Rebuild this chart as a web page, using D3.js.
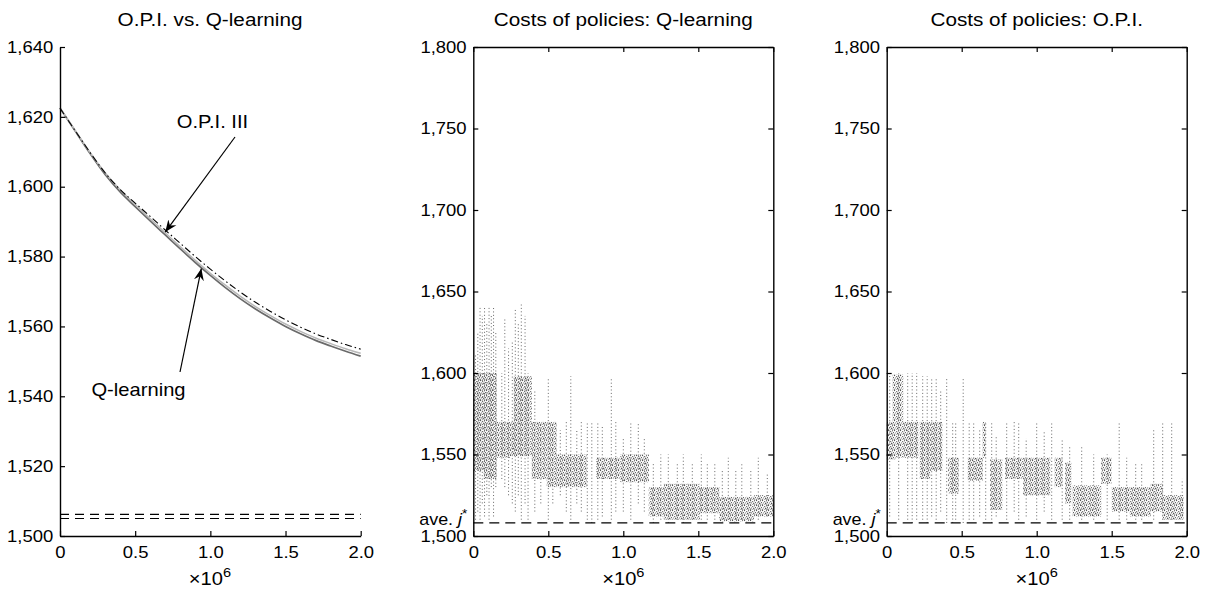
<!DOCTYPE html>
<html>
<head>
<meta charset="utf-8">
<script src="https://cdn.jsdelivr.net/npm/d3@7"></script>
<style>
  html, body { margin: 0; padding: 0; background: #fff; }
  svg text { font-family: "Liberation Sans", Arial, Helvetica, sans-serif; fill: #000; }
</style>
</head>
<body>
<svg id="chart" width="1206" height="589"></svg>
<script>
// ---- Panel 1: value estimates along training (x in millions of iterations)
const iterations = [0, 0.1, 0.2, 0.3, 0.4, 0.5, 0.6, 0.7, 0.8, 0.9, 1.0,
                    1.1, 1.2, 1.3, 1.4, 1.5, 1.6, 1.7, 1.8, 1.9, 2.0];
const qLearningDark  = [1622.5, 1616.0, 1609.5, 1603.5, 1598.5, 1594.3, 1590.2, 1586.2, 1582.2, 1578.3, 1574.6,
                        1571.1, 1567.9, 1565.0, 1562.4, 1560.0, 1557.9, 1556.0, 1554.4, 1552.9, 1551.5];
const qLearningLight = [1622.5, 1616.2, 1609.8, 1604.0, 1599.1, 1594.9, 1590.8, 1586.8, 1582.8, 1578.9, 1575.2,
                        1571.8, 1568.6, 1565.7, 1563.1, 1560.7, 1558.6, 1556.7, 1555.1, 1553.6, 1552.3];
const opiIII         = [1622.5, 1616.1, 1609.8, 1604.0, 1599.2, 1595.3, 1591.5, 1587.6, 1583.8, 1580.0, 1576.4,
                        1573.0, 1569.8, 1566.9, 1564.3, 1561.9, 1559.8, 1557.9, 1556.3, 1554.8, 1553.5];
const optimalLevels  = [1506.2, 1505.0];

// ---- Panels 2 and 3: simulated policy costs
// dense clusters: [x0, x1, low, high]
const qBlocks = [
  [0.005, 0.07, 1540, 1600], [0.07, 0.155, 1568, 1600], [0.07, 0.155, 1535, 1568],
  [0.155, 0.245, 1548, 1570], [0.245, 0.39, 1549, 1570], [0.27, 0.39, 1570, 1598],
  [0.39, 0.49, 1535, 1570], [0.49, 0.555, 1530, 1570], [0.555, 0.755, 1530, 1550],
  [0.82, 0.98, 1535, 1548], [0.98, 1.17, 1533, 1550], [1.17, 1.27, 1512, 1530],
  [1.27, 1.51, 1510, 1532], [1.51, 1.64, 1514, 1530], [1.64, 1.87, 1509, 1524],
  [1.87, 2.0, 1512, 1525]
];
// isolated columns of samples: [x, low, high]
const qStrips = [
  [0.015, 1510, 1612], [0.03, 1515, 1625], [0.045, 1510, 1640], [0.06, 1520, 1635], [0.075, 1512, 1640],
  [0.09, 1525, 1630], [0.105, 1510, 1640], [0.12, 1530, 1636], [0.135, 1512, 1640], [0.15, 1530, 1625],
  [0.19, 1535, 1600], [0.21, 1530, 1633], [0.235, 1525, 1615], [0.26, 1520, 1620], [0.28, 1515, 1640],
  [0.30, 1525, 1630], [0.32, 1510, 1642], [0.345, 1520, 1635], [0.365, 1510, 1600], [0.41, 1515, 1590],
  [0.45, 1520, 1570], [0.50, 1510, 1597], [0.53, 1520, 1570], [0.58, 1525, 1565], [0.62, 1515, 1570],
  [0.65, 1510, 1598], [0.69, 1520, 1565], [0.72, 1515, 1570], [0.76, 1510, 1570], [0.79, 1508, 1570],
  [0.83, 1510, 1570], [0.86, 1512, 1568], [0.92, 1510, 1597], [0.95, 1515, 1570], [1.0, 1515, 1560],
  [1.05, 1510, 1570], [1.1, 1520, 1570], [1.14, 1515, 1560], [1.2, 1508, 1545], [1.25, 1510, 1550],
  [1.3, 1508, 1550], [1.36, 1510, 1545], [1.4, 1508, 1550], [1.46, 1510, 1545], [1.52, 1510, 1550],
  [1.56, 1510, 1545], [1.61, 1510, 1545], [1.66, 1510, 1540], [1.7, 1510, 1548], [1.75, 1510, 1540],
  [1.79, 1510, 1545], [1.85, 1510, 1540], [1.9, 1510, 1548], [1.96, 1512, 1538]
];
const oBlocks = [
  [0.0, 0.06, 1547, 1570], [0.04, 0.11, 1570, 1599], [0.06, 0.11, 1548, 1570],
  [0.11, 0.21, 1548, 1570], [0.22, 0.29, 1535, 1570], [0.29, 0.37, 1540, 1570],
  [0.41, 0.48, 1526, 1548], [0.54, 0.64, 1534, 1548], [0.64, 0.66, 1548, 1570],
  [0.69, 0.77, 1516, 1547], [0.79, 0.91, 1535, 1548], [0.91, 1.09, 1525, 1548],
  [1.12, 1.17, 1530, 1548], [1.19, 1.23, 1520, 1545], [1.24, 1.43, 1512, 1531],
  [1.43, 1.5, 1532, 1548], [1.5, 1.62, 1515, 1530], [1.62, 1.76, 1512, 1530],
  [1.76, 1.84, 1515, 1532], [1.84, 1.98, 1510, 1525]
];
const oStrips = [
  [0.02, 1512, 1600], [0.08, 1510, 1600], [0.14, 1510, 1600], [0.17, 1508, 1600], [0.2, 1510, 1600],
  [0.24, 1510, 1598], [0.27, 1508, 1598], [0.3, 1512, 1597], [0.33, 1510, 1597], [0.36, 1515, 1590],
  [0.4, 1508, 1597], [0.44, 1508, 1570], [0.46, 1510, 1570], [0.51, 1508, 1597], [0.55, 1510, 1570],
  [0.58, 1510, 1570], [0.62, 1512, 1565], [0.66, 1510, 1570], [0.7, 1508, 1570], [0.73, 1512, 1562],
  [0.8, 1510, 1570], [0.85, 1515, 1570], [0.88, 1510, 1570], [0.93, 1512, 1560], [1.0, 1510, 1570],
  [1.05, 1515, 1565], [1.1, 1510, 1570], [1.17, 1510, 1560], [1.22, 1510, 1555], [1.3, 1510, 1555],
  [1.38, 1510, 1550], [1.47, 1510, 1550], [1.55, 1510, 1570], [1.6, 1510, 1548], [1.66, 1510, 1545],
  [1.7, 1510, 1545], [1.78, 1510, 1565], [1.84, 1510, 1570], [1.9, 1510, 1570], [1.97, 1512, 1535]
];
const averageOptimalCost = 1508;

// ---- Tick values and labels
const xTicks = [0, 0.5, 1.0, 1.5, 2.0];
const yTicksPanel1 = [1500, 1520, 1540, 1560, 1580, 1600, 1620, 1640];
const yTicksCost = [1500, 1550, 1600, 1650, 1700, 1750, 1800];
const titles = ["O.P.I. vs. Q-learning", "Costs of policies: Q-learning", "Costs of policies: O.P.I."];

// ---------------------------------------------------------------
const svg = d3.select("#chart");
const SX = 1.12; // horizontal stretch of the lettering
const fmtX = d => d === 0 ? "0" : d3.format(".1f")(d);
const fmtY = d3.format(",");
const plotTop = 47, plotBottom = 536;

const defs = svg.append("defs");
// irregular speckle tile used to render dense clusters of sampled costs
const speckle = defs.append("pattern").attr("id", "dots").attr("patternUnits", "userSpaceOnUse")
  .attr("width", 6).attr("height", 5);
[[0, 0, "#555"], [2, 1, "#777"], [4, 0.2, "#5a5a5a"], [1, 2.4, "#888"], [3, 3, "#555"],
 [5, 2, "#666"], [0, 3.8, "#777"], [2.2, 4, "#999"], [4.2, 3.6, "#666"], [3.1, 1.6, "#aaa"]]
  .forEach(([px, py, c]) => speckle.append("rect").attr("x", px).attr("y", py)
    .attr("width", 1.1).attr("height", 1.1).attr("fill", c));
defs.append("marker").attr("id", "arrowhead").attr("viewBox", "-12 -6 14 12")
  .attr("refX", 0).attr("refY", 0).attr("markerWidth", 14).attr("markerHeight", 12)
  .attr("markerUnits", "userSpaceOnUse").attr("orient", "auto")
  .append("path").attr("d", "M0,0 L-12,-5 L-8,0 L-12,5 Z").attr("fill", "#000");

function label(g, x, y, text, size, anchor) {
  return g.append("text")
    .attr("transform", `translate(${x},${y}) scale(${SX},1)`)
    .attr("text-anchor", anchor || "middle")
    .attr("font-size", size)
    .text(text);
}

function styleAxis(sel, showLabels) {
  sel.selectAll("path.domain").attr("stroke", "#000").attr("stroke-width", 1.4);
  sel.selectAll(".tick line").attr("stroke", "#000").attr("stroke-width", 1.2);
  sel.selectAll(".tick text").attr("font-size", 16.5)
    .attr("font-family", "Liberation Sans, Arial, sans-serif")
    .attr("transform", `scale(${SX},1)`);
  if (!showLabels) sel.selectAll(".tick text").remove();
}

function xLabel(g, cx) {
  const t = g.append("text")
    .attr("transform", `translate(${cx},585) scale(${SX},1)`)
    .attr("text-anchor", "middle").attr("font-size", 18);
  t.append("tspan").text("\u00d710");
  t.append("tspan").attr("dy", -8).attr("font-size", 13).text("6");
}

// ---------------- Panel 1 ----------------
{
  const g = svg.append("g");
  const x = d3.scaleLinear().domain([0, 2]).range([60, 360.7]);
  const y = d3.scaleLinear().domain([1500, 1640]).range([plotBottom, plotTop]);

  // optimal reference levels
  g.selectAll("line.opt").data(optimalLevels).join("line")
    .attr("x1", x(0)).attr("x2", x(2)).attr("y1", d => y(d)).attr("y2", d => y(d))
    .attr("stroke", "#000").attr("stroke-width", 1.1).attr("stroke-dasharray", "9,6");

  const line = d3.line().x((d, i) => x(iterations[i])).y(d => y(d)).curve(d3.curveMonotoneX);
  g.append("path").datum(qLearningDark).attr("d", line)
    .attr("fill", "none").attr("stroke", "#6a6a6a").attr("stroke-width", 1.7);
  g.append("path").datum(qLearningLight).attr("d", line)
    .attr("fill", "none").attr("stroke", "#b8b8b8").attr("stroke-width", 1.5);
  g.append("path").datum(opiIII).attr("d", line)
    .attr("fill", "none").attr("stroke", "#000").attr("stroke-width", 1.1)
    .attr("stroke-dasharray", "7,3,1.5,3");

  g.append("g").attr("transform", `translate(0,${plotBottom})`)
    .call(d3.axisBottom(x).tickValues(xTicks).tickFormat(fmtX).tickSizeInner(-5).tickSizeOuter(0).tickPadding(10))
    .call(s => styleAxis(s, true));
  g.append("g").attr("transform", `translate(${x(0)},0)`)
    .call(d3.axisLeft(y).tickValues(yTicksPanel1).tickFormat(fmtY).tickSizeInner(-5).tickSizeOuter(0).tickPadding(6))
    .call(s => styleAxis(s, true));

  // annotations
  label(g, 212.5, 128, "O.P.I. III", 18);
  g.append("line").attr("x1", 235).attr("y1", 137).attr("x2", x(0.70)).attr("y2", y(opiIII[7]) + 2)
    .attr("stroke", "#000").attr("stroke-width", 1.2).attr("marker-end", "url(#arrowhead)");
  label(g, 138.5, 396, "Q-learning", 18);
  g.append("line").attr("x1", 180).attr("y1", 372).attr("x2", x(0.94)).attr("y2", y(qLearningDark[9]) + 6)
    .attr("stroke", "#000").attr("stroke-width", 1.2).attr("marker-end", "url(#arrowhead)");

  label(g, 210, 26, titles[0], 18.5);
  xLabel(g, 210);
}

// ---------------- Panels 2 and 3 ----------------
function costPanel(x0, x1, blocks, strips, title) {
  const g = svg.append("g");
  const x = d3.scaleLinear().domain([0, 2]).range([x0, x1]);
  const y = d3.scaleLinear().domain([1500, 1800]).range([plotBottom, plotTop]);

  g.selectAll("rect.block").data(blocks).join("rect")
    .attr("x", d => x(d[0])).attr("width", d => x(d[1]) - x(d[0]))
    .attr("y", d => y(d[3])).attr("height", d => y(d[2]) - y(d[3]))
    .attr("fill", "url(#dots)");
  g.selectAll("line.strip").data(strips).join("line")
    .attr("x1", d => x(d[0])).attr("x2", d => x(d[0]))
    .attr("y1", d => y(d[1])).attr("y2", d => y(d[2]))
    .attr("stroke", "#666").attr("stroke-width", 1).attr("stroke-dasharray", "1,2.4");

  g.append("line").attr("x1", x(0)).attr("x2", x(2))
    .attr("y1", y(averageOptimalCost)).attr("y2", y(averageOptimalCost))
    .attr("stroke", "#000").attr("stroke-width", 1.3).attr("stroke-dasharray", "10,6");

  g.append("g").attr("transform", `translate(0,${plotBottom})`)
    .call(d3.axisBottom(x).tickValues(xTicks).tickFormat(fmtX).tickSizeInner(-5).tickSizeOuter(0).tickPadding(10))
    .call(s => styleAxis(s, true));
  g.append("g").attr("transform", `translate(0,${plotTop})`)
    .call(d3.axisTop(x).tickValues(xTicks).tickSizeInner(-5).tickSizeOuter(0))
    .call(s => styleAxis(s, false));
  g.append("g").attr("transform", `translate(${x(0)},0)`)
    .call(d3.axisLeft(y).tickValues(yTicksCost).tickFormat(fmtY).tickSizeInner(-5).tickSizeOuter(0).tickPadding(6))
    .call(s => styleAxis(s, true));
  g.append("g").attr("transform", `translate(${x(2)},0)`)
    .call(d3.axisRight(y).tickValues(yTicksCost).tickSizeInner(-5).tickSizeOuter(0))
    .call(s => styleAxis(s, false));

  // "ave. j*" marker label
  const t = g.append("text")
    .attr("transform", `translate(${x(0) - 6},${y(averageOptimalCost) + 2}) scale(${SX},1)`)
    .attr("text-anchor", "end").attr("font-size", 16);
  t.append("tspan").text("ave. ");
  t.append("tspan").attr("font-style", "italic").text("j");
  t.append("tspan").attr("dy", -7).attr("font-size", 12).text("*");

  label(g, (x0 + x1) / 2, 26, title, 18.5);
  xLabel(g, (x0 + x1) / 2);
}

costPanel(473.3, 773.3, qBlocks, qStrips, titles[1]);
costPanel(886.7, 1186.7, oBlocks, oStrips, titles[2]);
</script>
</body>
</html>
